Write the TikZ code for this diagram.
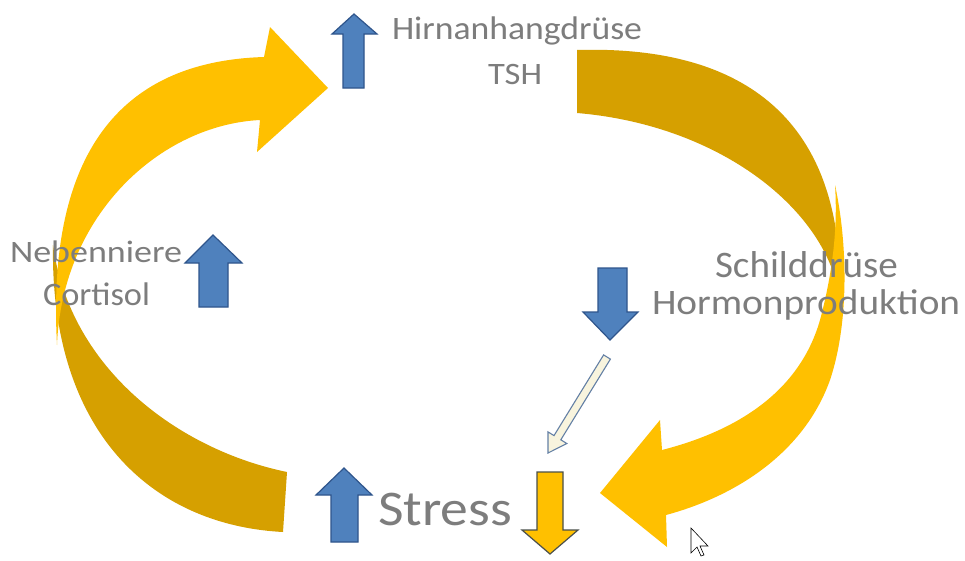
\documentclass[tikz,border=0pt]{standalone}
\usepackage{fontspec}
\setmainfont{Carlito}
\usepackage{graphicx}
\definecolor{goldA}{RGB}{255,192,0}
\definecolor{goldB}{RGB}{214,160,0}
\definecolor{blueF}{RGB}{79,129,189}
\definecolor{blueD}{RGB}{47,85,140}
\definecolor{txtgray}{RGB}{125,125,125}
\definecolor{olivedark}{RGB}{75,80,75}
\definecolor{paleyel}{RGB}{248,244,222}
\definecolor{paleblue}{RGB}{100,128,165}
\newcommand\fittxt[3]{\resizebox{#1}{#2}{\smash{#3}\vphantom{H}}}
\tikzset{
  lbl/.style={anchor=base west, inner sep=0pt, outer sep=0pt, text=txtgray},
  bluearrow/.style={fill=blueF, draw=blueD, line width=1.2pt, line join=miter},
  yelarrow/.style={fill=goldA, draw=olivedark, line width=1.2pt, line join=miter},
  thinarrow/.style={fill=paleyel, draw=paleblue, line width=1.1pt, line join=miter},
  backband/.style={fill=goldB},
  frontband/.style={fill=goldA},
}
\begin{document}
\begin{tikzpicture}[x=1pt,y=-1pt]
\fill[white] (0,0) rectangle (965,560);
% left curved arrow: back (dark) part
\fill[backband] (283,532) .. controls (150,525) and (50,430) .. (53,245)
  .. controls (70,370) and (180,450) .. (287,472) -- cycle;
% left curved arrow: front (bright) part with head
\fill[frontband] (57,345) .. controls (48,180) and (100,62) .. (264,57)
  -- (270,27) -- (328,88) -- (257,152) -- (260,120)
  .. controls (160,125) and (62,215) .. (57,345) -- cycle;
% right curved arrow: back (dark) part
\fill[backband] (577,50) .. controls (745,45) and (845,120) .. (840,300)
  .. controls (828,210) and (720,125) .. (577,113) -- cycle;
% right curved arrow: front (bright) part with head
\fill[frontband] (835,185) .. controls (847,240) and (850,320) .. (830,380)
  .. controls (805,450) and (740,495) .. (666,515)
  -- (667,547) -- (600,493) -- (660,420) -- (662,450)
  .. controls (740,430) and (800,390) .. (820,320)
  .. controls (832,275) and (838,230) .. (835,185) -- cycle;
% small block arrows
\draw[bluearrow] (343,88) -- (343,34) -- (332,34) -- (354,14) -- (377,34) -- (364,34) -- (364,88) -- cycle;
\draw[bluearrow] (199,307) -- (199,263) -- (185,263) -- (213,235) -- (242,263) -- (228,263) -- (228,307) -- cycle;
\draw[bluearrow] (598,268) -- (598,312) -- (583,312) -- (610,340) -- (638,312) -- (627,312) -- (627,268) -- cycle;
\draw[bluearrow] (331,542) -- (331,495) -- (316,495) -- (344,468) -- (372,495) -- (358,495) -- (358,542) -- cycle;
\draw[yelarrow] (537,472) -- (537,530) -- (522,530) -- (550,554) -- (578,530) -- (563,530) -- (563,472) -- cycle;
\draw[thinarrow] (610.4,359.1) -- (560.8,439.8) -- (566.8,443.5) -- (548,453) -- (548.0,431.9) -- (554.0,435.6) -- (603.6,354.9) -- cycle;
% mouse pointer
\draw[fill=white, draw=black, line width=0.6pt, line join=miter] (691,528) -- (691,553) -- (697,547) -- (701,556) -- (704,555) -- (700,546) -- (708,546) -- cycle;
% labels
\node[lbl] (hirn) at (392,39) {\fittxt{250pt}{21pt}{Hirnanhangdrüse}};
\node[lbl] (tsh) at (488,84) {\fittxt{54pt}{20pt}{TSH}};
\node[lbl] (neben) at (10,262) {\fittxt{172pt}{20pt}{Nebenniere}};
\node[lbl] (cort) at (43,305) {\fittxt{107pt}{21pt}{Cortisol}};
\node[lbl] (schild) at (715,277) {\fittxt{183pt}{24pt}{Schilddrüse}};
\node[lbl] (hormon) at (652,314) {\fittxt{308pt}{23pt}{Hormonproduktion}};
\node[lbl] (stress) at (378,525) {\fittxt{134pt}{32pt}{Stress}};
\end{tikzpicture}
\end{document}
